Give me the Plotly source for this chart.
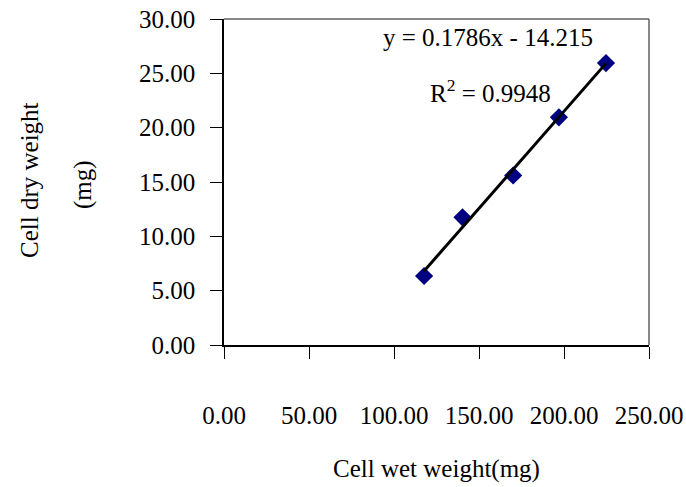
import plotly.graph_objects as go

wet_weight = [117.7, 140.3, 170.1, 197.0, 224.7]
dry_weight = [6.35, 11.75, 15.6, 20.95, 25.94]
slope = 0.1786
intercept = -14.215
r_squared = 0.9948

x_ticks = [0, 50, 100, 150, 200, 250]
y_ticks = [0, 5, 10, 15, 20, 25, 30]

fit_x = [min(wet_weight), max(wet_weight)]
fit_y = [slope * v + intercept for v in fit_x]

FONT = "Liberation Serif"
FS = 25
L, R, T, B = 224, 37, 19, 142
W, H = 686, 487

fig = go.Figure()
fig.add_trace(go.Scatter(
    x=wet_weight, y=dry_weight, mode="markers",
    marker=dict(symbol="diamond", size=14, color="#000080"),
    showlegend=False))
fig.add_trace(go.Scatter(
    x=fit_x, y=fit_y, mode="lines",
    line=dict(color="black", width=3), showlegend=False))

fig.update_layout(
    width=W, height=H,
    margin=dict(l=L, r=R, t=T, b=B),
    paper_bgcolor="white", plot_bgcolor="white",
    font=dict(family=FONT, size=FS, color="black"),
    xaxis=dict(range=[0, 250], tickvals=x_ticks, tickformat=".2f",
               showgrid=False, zeroline=False, showline=True,
               linecolor="black", linewidth=1.5, automargin=False,
               ticks="outside", ticklen=12, tickcolor="black",
               ticklabelstandoff=35,
               title=dict(text="Cell wet weight(mg)", standoff=32,
                          font=dict(size=FS))),
    yaxis=dict(range=[0, 30], tickvals=y_ticks, tickformat=".2f",
               showgrid=False, zeroline=False, showline=True,
               linecolor="black", linewidth=1.5, automargin=False,
               ticks="outside", ticklen=12, tickcolor="black",
               ticklabelstandoff=10),
    shapes=[
        dict(type="line", xref="paper", yref="paper", x0=0, x1=1, y0=1, y1=1,
             line=dict(color="#606060", width=1.5)),
        dict(type="line", xref="paper", yref="paper", x0=1, x1=1, y0=0, y1=1,
             line=dict(color="#606060", width=1.5)),
    ],
)

pw, ph = W - L - R, H - T - B


def px2paper(px, py):
    return (px - L) / pw, (H - B - py) / ph


annots = [
    ("Cell dry weight", 29, 180, -90),
    ("(mg)", 83, 185, -90),
    ("y = 0.1786x - 14.215", 488, 37, 0),
    ("R<sup>2</sup> = 0.9948", 490, 91, 0),
]
for text, px, py, ang in annots:
    xp, yp = px2paper(px, py)
    fig.add_annotation(text=text, x=xp, y=yp, xref="paper", yref="paper",
                       xanchor="center", yanchor="middle", showarrow=False,
                       textangle=ang, font=dict(size=FS))

fig.write_html("out.html")
